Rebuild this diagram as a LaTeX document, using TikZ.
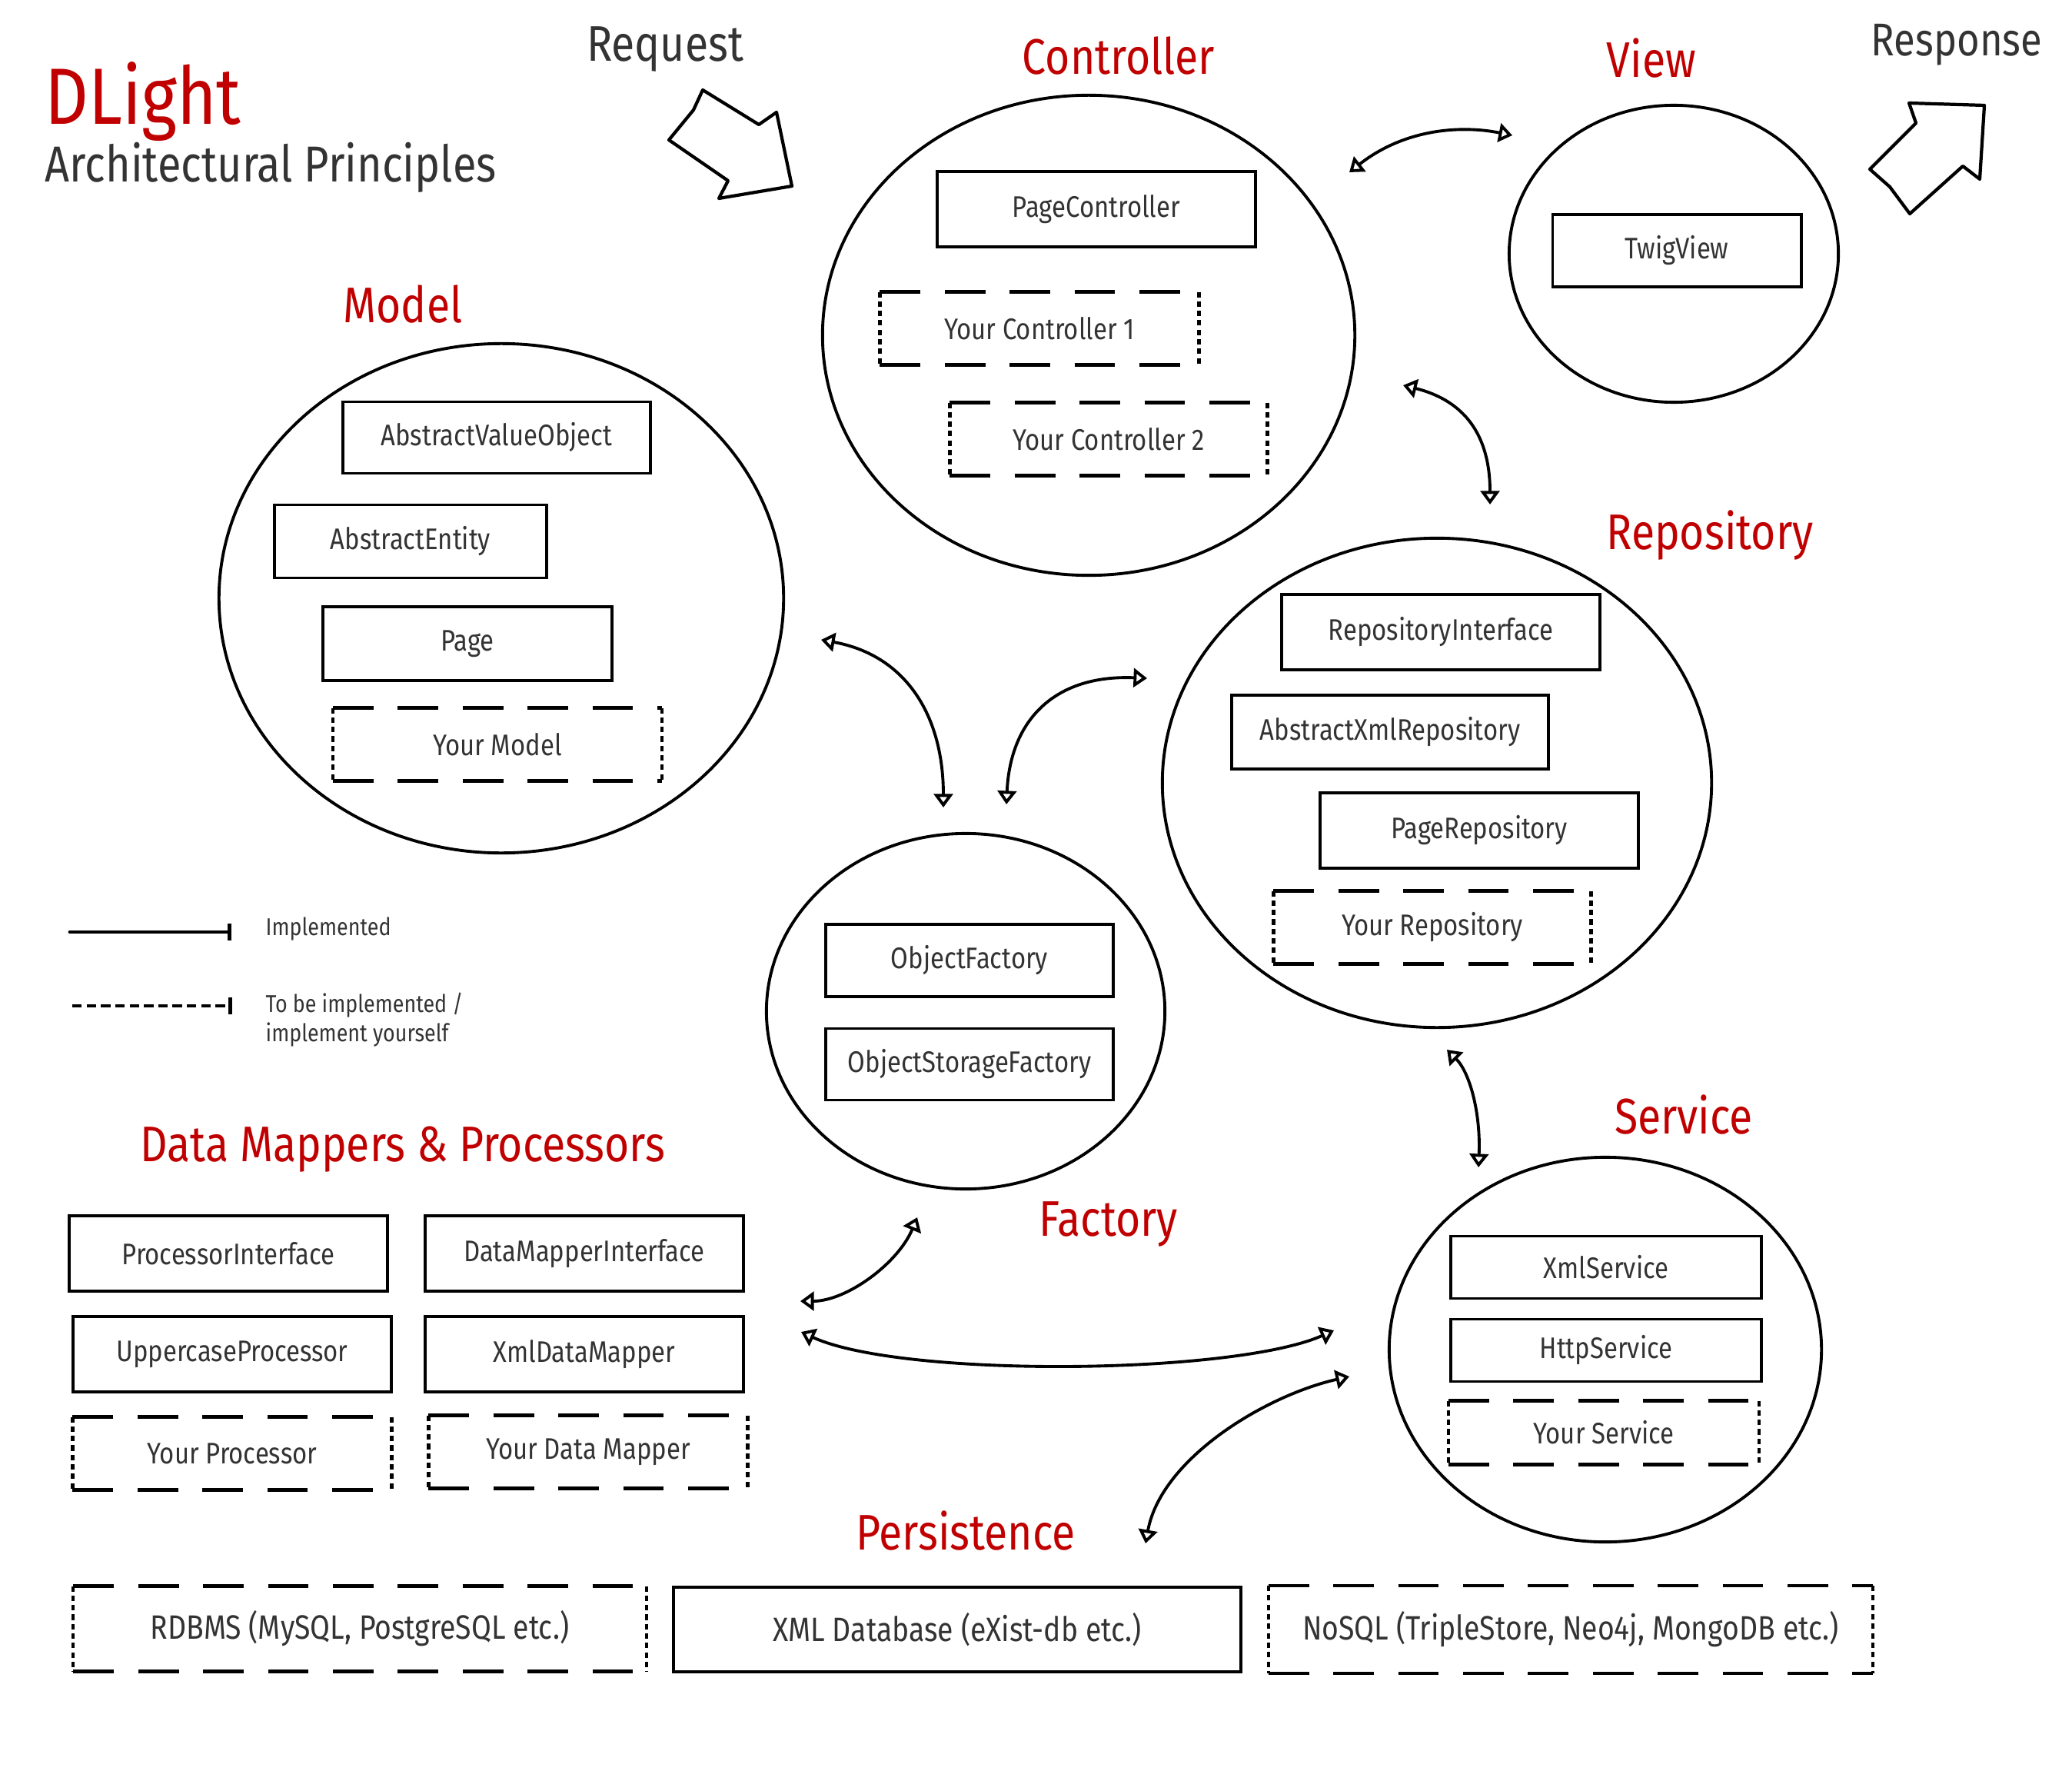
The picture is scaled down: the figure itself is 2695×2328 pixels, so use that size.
\documentclass[tikz,border=0pt]{standalone}
\usepackage{fontspec}
\usepackage{tikz}
\usetikzlibrary{arrows.meta,shapes.geometric}

\setmainfont{Fira Sans}[FakeStretch=0.85]
\definecolor{dlred}{HTML}{C00000}
\definecolor{ink}{HTML}{333333}
\newcommand{\bigfont}{\fontsize{29.5}{34}\selectfont}
\newcommand{\headfont}{\fontsize{18.5}{22}\selectfont}
\newcommand{\boxfont}{\fontsize{11}{13}\selectfont}
\newcommand{\dbfont}{\fontsize{12.5}{15}\selectfont}
\newcommand{\notefont}{\fontsize{9}{11}\selectfont}

\tikzset{
  group/.style={ellipse, draw, line width=1.1pt, inner sep=0pt},
  cls/.style={rectangle, draw, line width=1.1pt, inner sep=0pt,
    minimum width=4.1cm, minimum height=0.95cm, text=ink, font=\boxfont},
  longdash/.style={draw, line width=1.2pt, dash pattern=on 15pt off 9pt},
  shortdash/.style={draw, line width=1.2pt, dash pattern=on 2pt off 1.5pt},
  todo/.style={cls, draw=none, append after command={
    (\tikzlastnode.north west) edge[longdash] (\tikzlastnode.north east)
    (\tikzlastnode.south west) edge[longdash] (\tikzlastnode.south east)
    (\tikzlastnode.north west) edge[shortdash] (\tikzlastnode.south west)
    (\tikzlastnode.north east) edge[shortdash] (\tikzlastnode.south east)}},
  head/.style={font=\headfont, text=dlred, inner sep=0pt},
  link/.style={line width=1.1pt,
    {Triangle[open,length=5pt,width=7pt]}-{Triangle[open,length=5pt,width=7pt]}},
  bigarrow/.style={line width=1.2pt, line join=round}
}

\begin{document}
\begin{tikzpicture}[x=0.01cm,y=-0.01cm]
  \useasboundingbox (0,0) rectangle (2695,2328);

  % title
  \node[anchor=base west, inner sep=0pt, font=\bigfont, text=dlred] (title) at (58,162) {DLight};
  \node[anchor=base west, inner sep=0pt, font=\fontsize{18.7}{23}\selectfont, text=ink] (subtitle) at (58,237) {Architectural Principles};

  % request / response
  \node[head, text=ink] (req) at (865,64) {Request};
  \node[head, text=ink, font=\fontsize{17}{20}\selectfont] (resp) at (2545,58) {Response};
  \draw[bigarrow] (914,117) -- (987,162) -- (1010,146) -- (1030,242) -- (935,258)
    -- (947,235) -- (870,182) -- (902,143) -- cycle;
  \draw[bigarrow] (2483,134) -- (2581,137) -- (2575,233) -- (2553,216) -- (2484,278)
    -- (2458,243) -- (2432,220) -- (2492,160) -- cycle;

  % controller
  \node[head] (ctrlT) at (1455,73) {Controller};
  \node[group, minimum width=6.92cm, minimum height=6.24cm] (ctrl) at (1416,436) {};
  \node[cls, minimum width=4.13cm, minimum height=0.98cm] (pagectrl) at (1426,272) {PageController};
  \node[todo, minimum width=4.11cm, minimum height=0.91cm] (yourctrl1) at (1352,427) {Your Controller 1};
  \node[todo, minimum width=4.09cm, minimum height=0.91cm] (yourctrl2) at (1442,571) {Your Controller 2};

  % view
  \node[head] (viewT) at (2148,76) {View};
  \node[group, minimum width=4.28cm, minimum height=3.86cm] (view) at (2177,330) {};
  \node[cls, minimum width=3.23cm, minimum height=0.94cm] (twig) at (2181,326) {TwigView};

  % model
  \node[head] (modelT) at (524,395) {Model};
  \node[group, minimum width=7.34cm, minimum height=6.62cm] (model) at (652,778) {};
  \node[cls, minimum width=3.99cm, minimum height=0.93cm] (avo) at (646,569) {AbstractValueObject};
  \node[cls, minimum width=3.53cm, minimum height=0.95cm] (entity) at (534,704) {AbstractEntity};
  \node[cls, minimum width=3.76cm, minimum height=0.96cm] (page) at (608,837) {Page};
  \node[todo, minimum width=4.24cm, minimum height=0.91cm] (yourmodel) at (647,968) {Your Model};

  % repository
  \node[head] (repoT) at (2224,696) {Repository};
  \node[group, minimum width=7.14cm, minimum height=6.36cm] (repo) at (1869,1018) {};
  \node[cls, minimum width=4.14cm, minimum height=0.98cm] (repoiface) at (1874,822) {RepositoryInterface};
  \node[cls, minimum width=4.12cm, minimum height=0.96cm] (absxml) at (1808,952) {AbstractXmlRepository};
  \node[cls, minimum width=4.14cm, minimum height=0.98cm] (pagerepo) at (1924,1080) {PageRepository};
  \node[todo, minimum width=4.09cm, minimum height=0.91cm] (yourrepo) at (1863,1206) {Your Repository};

  % factory
  \node[head] (facT) at (1442,1592) {Factory};
  \node[group, minimum width=5.18cm, minimum height=4.62cm] (factory) at (1256,1315) {};
  \node[cls, minimum width=3.73cm, minimum height=0.94cm] (objfac) at (1261,1249) {ObjectFactory};
  \node[cls, minimum width=3.73cm, minimum height=0.93cm] (objstore) at (1261,1384) {ObjectStorageFactory};

  % service
  \node[head] (svcT) at (2190,1450) {Service};
  \node[group, minimum width=5.62cm, minimum height=5.0cm] (service) at (2088,1755) {};
  \node[cls, minimum width=4.04cm, minimum height=0.81cm] (xmlsvc) at (2089,1648) {XmlService};
  \node[cls, minimum width=4.04cm, minimum height=0.81cm] (httpsvc) at (2089,1756) {HttpService};
  \node[todo, minimum width=4.0cm, minimum height=0.79cm] (yoursvc) at (2086,1863) {Your Service};

  % data mappers and processors
  \node[head] (dmT) at (524,1495) {Data Mappers \& Processors};
  \node[cls, minimum width=4.13cm, minimum height=0.98cm] (procif) at (297,1630) {ProcessorInterface};
  \node[cls, minimum width=4.14cm, minimum height=0.98cm] (dmif) at (760,1630) {DataMapperInterface};
  \node[cls, minimum width=4.14cm, minimum height=0.98cm] (upper) at (302,1761) {UppercaseProcessor};
  \node[cls, minimum width=4.14cm, minimum height=0.98cm] (xmldm) at (760,1761) {XmlDataMapper};
  \node[todo, minimum width=4.11cm, minimum height=0.91cm] (yourproc) at (302,1890) {Your Processor};
  \node[todo, minimum width=4.11cm, minimum height=0.91cm] (yourdm) at (765,1888) {Your Data Mapper};

  % persistence
  \node[head] (persT) at (1256,1990) {Persistence};
  \node[todo, font=\dbfont, minimum width=7.41cm, minimum height=1.07cm] (rdbms) at (468,2118) {RDBMS (MySQL, PostgreSQL etc.)};
  \node[cls, font=\dbfont, minimum width=7.37cm, minimum height=1.1cm] (xmldb) at (1245,2119) {XML Database (eXist-db etc.)};
  \node[todo, font=\dbfont, minimum width=7.82cm, minimum height=1.1cm] (nosql) at (2043,2119) {NoSQL (TripleStore, Neo4j, MongoDB etc.)};

  % legend
  \coordinate (impA) at (91,1212);
  \coordinate (impB) at (301,1212);
  \coordinate (todoA) at (94,1308);
  \coordinate (todoB) at (302,1308);
  \draw[line width=1.4pt, line cap=round, -{Bar[width=6.5pt]}] (impA) -- (impB);
  \draw[line width=1.4pt, dash pattern=on 3.5pt off 1.8pt, -{Bar[width=6.5pt]}] (todoA) -- (todoB);
  \node[anchor=west, font=\notefont, text=ink, inner sep=0pt] (impT) at (345,1208) {Implemented};
  \node[anchor=west, font=\notefont, text=ink, inner sep=0pt, align=left] (todoT) at (345,1326)
    {To be implemented /\\implement yourself};

  % connectors
  \coordinate (cv1) at (1755,224);   \coordinate (cv2) at (1967,176);
  \coordinate (cr1) at (1825,501);   \coordinate (cr2) at (1938,656);
  \coordinate (mf1) at (1068,832);   \coordinate (mf2) at (1227,1050);
  \coordinate (fr1) at (1309,1046);  \coordinate (fr2) at (1492,882);
  \coordinate (rs1) at (1882,1365);  \coordinate (rs2) at (1923,1518);
  \coordinate (df1) at (1041,1692);  \coordinate (df2) at (1193,1583);
  \coordinate (ds1) at (1042,1732);  \coordinate (ds2) at (1735,1730);
  \coordinate (ps1) at (1490,2007);  \coordinate (ps2) at (1755,1790);

  \draw[link] (cv1) .. controls +(70,-55) and +(-70,-14) .. (cv2);
  \draw[link] (cr1) .. controls +(80,20) and +(0,-90) .. (cr2);
  \draw[link] (mf1) .. controls +(110,20) and +(0,-120) .. (mf2);
  \draw[link] (fr1) .. controls +(5,-110) and +(-120,-5) .. (fr2);
  \draw[link] (rs1) .. controls +(30,30) and +(3,-70) .. (rs2);
  \draw[link] (df1) .. controls +(60,0) and +(-25,60) .. (df2);
  \draw[link] (ds1) .. controls +(130,60) and +(-130,58) .. (ds2);
  \draw[link] (ps1) .. controls +(20,-110) and +(-110,25) .. (ps2);
\end{tikzpicture}
\end{document}
